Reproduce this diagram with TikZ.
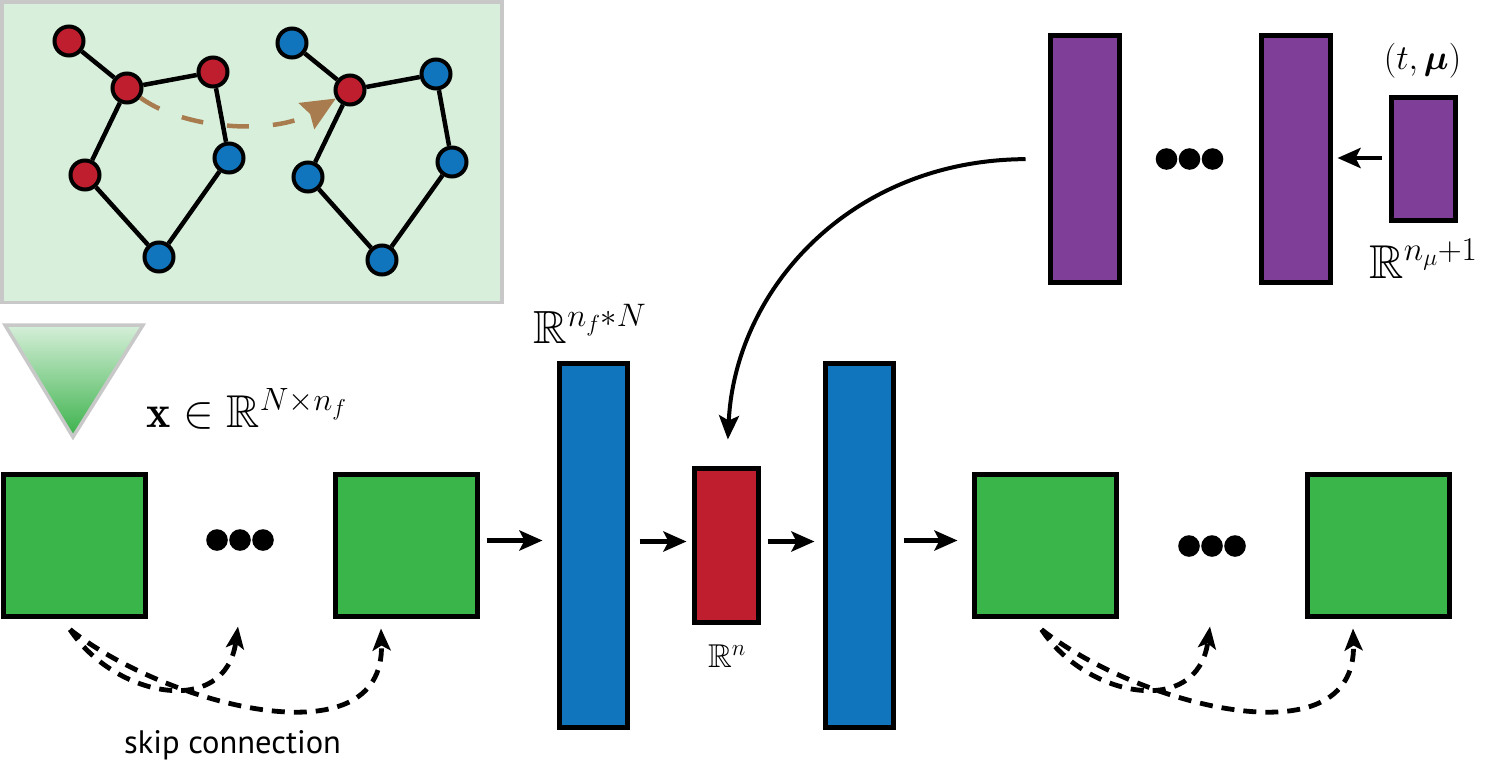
\RequirePackage{fix-cm}
\documentclass[tikz,border=0pt]{standalone}
\usepackage{amsmath,amssymb,bm}
\usepackage{fontspec}
\newfontfamily\skipfont{PT Sans}
\usetikzlibrary{arrows.meta,calc}
\definecolor{cgreen}{HTML}{3AB54A}
\definecolor{cblue}{HTML}{1075BC}
\definecolor{cred}{HTML}{BE1E2D}
\definecolor{cpurple}{HTML}{7F3F98}
\definecolor{cpanel}{HTML}{D8F0DB}
\definecolor{cbrown}{HTML}{A87C4F}
\definecolor{cgray}{HTML}{C8C8C8}
\definecolor{ctritop}{HTML}{D6EFD9}
\definecolor{ctribot}{HTML}{3BB24B}
\tikzset{
  layer/.style={draw=black, line width=5pt, inner sep=0pt, outer sep=0pt},
  gnode/.style={circle, draw=black, line width=4pt, minimum size=29pt, inner sep=0pt},
  gedge/.style={line width=4.5pt},
  arr/.style={line width=4.5pt, -{Stealth[length=23pt,width=20pt,inset=5pt]}},
  skiparr/.style={line width=4.8pt, dash pattern=on 13pt off 9pt, -{Stealth[length=22pt,width=18pt,inset=5pt]}},
  lab/.style={inner sep=0pt, anchor=base},
}
\begin{document}
\begin{tikzpicture}[x=1pt,y=-1pt]
\useasboundingbox (0,0) rectangle (1497,763);

% graph panel
\draw[cgray, line width=3.5pt, fill=cpanel] (1.75,1.75) rectangle (502,302.5);
\node[gnode, fill=cred]  (n1) at (69,41) {};
\node[gnode, fill=cred]  (n2) at (127,88) {};
\node[gnode, fill=cred]  (n3) at (213,72) {};
\node[gnode, fill=cred]  (n4) at (85,175) {};
\node[gnode, fill=cblue] (n5) at (229,158) {};
\node[gnode, fill=cblue] (n6) at (159,257) {};
\node[gnode, fill=cblue] (m1) at (292,43) {};
\node[gnode, fill=cred]  (m2) at (350,90) {};
\node[gnode, fill=cblue] (m3) at (436,74) {};
\node[gnode, fill=cblue] (m4) at (308,177) {};
\node[gnode, fill=cblue] (m5) at (452,162) {};
\node[gnode, fill=cblue] (m6) at (382,260) {};
\draw[gedge] (n1)--(n2) (n2)--(n3) (n2)--(n4) (n3)--(n5) (n4)--(n6) (n5)--(n6);
\draw[gedge] (m1)--(m2) (m2)--(m3) (m2)--(m4) (m3)--(m5) (m4)--(m6) (m5)--(m6);
\draw[cbrown, line width=4.5pt, dash pattern=on 22pt off 24pt,
      -{Stealth[length=34pt,width=30pt,inset=4pt]}]
  (n2) .. controls (185,130) and (275,135) .. (m2);

% triangle
\draw[cgray, line width=3.5pt, top color=ctritop, bottom color=ctribot]
  (5,325) -- (143,325) -- (73,437) -- cycle;
\node[lab] (xlab) at (246.5,427) {\fontsize{46}{52}\selectfont $\mathbf{x}\in\mathbb{R}^{N\times n_f}$};

% encoder / decoder layers
\node[layer, fill=cgreen, minimum width=142pt, minimum height=142pt] (sq1) at (74,545.5) {};
\node[layer, fill=cgreen, minimum width=142pt, minimum height=142pt] (sq2) at (406.5,545.5) {};
\node[layer, fill=cblue, minimum width=68pt, minimum height=364pt] (b1) at (593.5,545.5) {};
\node[layer, fill=cred, minimum width=64pt, minimum height=154pt] (r) at (726.5,545.5) {};
\node[layer, fill=cblue, minimum width=68pt, minimum height=364pt] (b2) at (859.5,545.5) {};
\node[layer, fill=cgreen, minimum width=142pt, minimum height=142pt] (sq3) at (1045.5,545.5) {};
\node[layer, fill=cgreen, minimum width=142pt, minimum height=142pt] (sq4) at (1378.5,545.5) {};

% parameter network
\node[layer, fill=cpurple, minimum width=69pt, minimum height=247pt] (p1) at (1085,159) {};
\node[layer, fill=cpurple, minimum width=69pt, minimum height=247pt] (p2) at (1296,159) {};
\node[layer, fill=cpurple, minimum width=64pt, minimum height=123pt] (p3) at (1423.5,159) {};

% dots
\coordinate (d1) at (240,540);
\coordinate (d2) at (1212,546);
\coordinate (d3) at (1189.5,159);
\foreach \c in {d1,d2,d3}
  \foreach \dx in {-23,0,23}
    \fill ($(\c)+(\dx,0)$) circle (10.8pt);

% labels
\node[lab] (lbig) at (590,343) {\fontsize{46.5}{52}\selectfont $\mathbb{R}^{n_f*N}$};
\node[lab] (ln) at (727,667) {\fontsize{33}{38}\selectfont $\mathbb{R}^{n}$};
\node[lab] (ltmu) at (1422.5,69) {\fontsize{35}{40}\selectfont $(t,\bm{\mu})$};
\node[lab] (lnmu) at (1423.5,278) {\fontsize{47.5}{54}\selectfont $\mathbb{R}^{n_\mu+1}$};
\node[lab] (lskip) at (232.5,753) {\skipfont\fontsize{32.5}{36}\selectfont skip connection};

% straight arrows
\draw[arr, shorten <=9pt, shorten >=17pt] ([yshift=5pt]sq2.east) -- ([yshift=5pt]b1.west);
\draw[arr, shorten <=12pt, shorten >=8pt] ([yshift=4pt]b1.east) -- ([yshift=4pt]r.west);
\draw[arr, shorten <=9pt, shorten >=11pt] ([yshift=4pt]r.east) -- ([yshift=4pt]b2.west);
\draw[arr, shorten <=10pt, shorten >=17pt] ([yshift=5pt]b2.east) -- ([yshift=5pt]sq3.west);
\draw[arr, shorten <=10pt, shorten >=7pt] ([yshift=1pt]p3.west) -- ([yshift=1pt]p2.east);

% curved arrow to latent
\draw[line width=4pt, -{Stealth[length=24pt,width=20pt,inset=5pt]}, shorten <=25pt, shorten >=29pt]
  (p1.west) .. controls (850,160) and (735,290) .. (r.north);

% skip connections
\foreach \s/\d/\q in {sq1/d1/sq2, sq3/d2/sq4} {
  \draw[skiparr] ($(\s.south)+(-4,13)$) .. controls +(45,68) and +(-13,92) .. ($(\d|-\s.south)+(-2,10)$);
  \draw[skiparr] ($(\s.south)+(-4,13)$) .. controls +(95,75) and +(4,135) .. ($(\q.south)+(-25.5,12)$);
}
\end{tikzpicture}
\end{document}
